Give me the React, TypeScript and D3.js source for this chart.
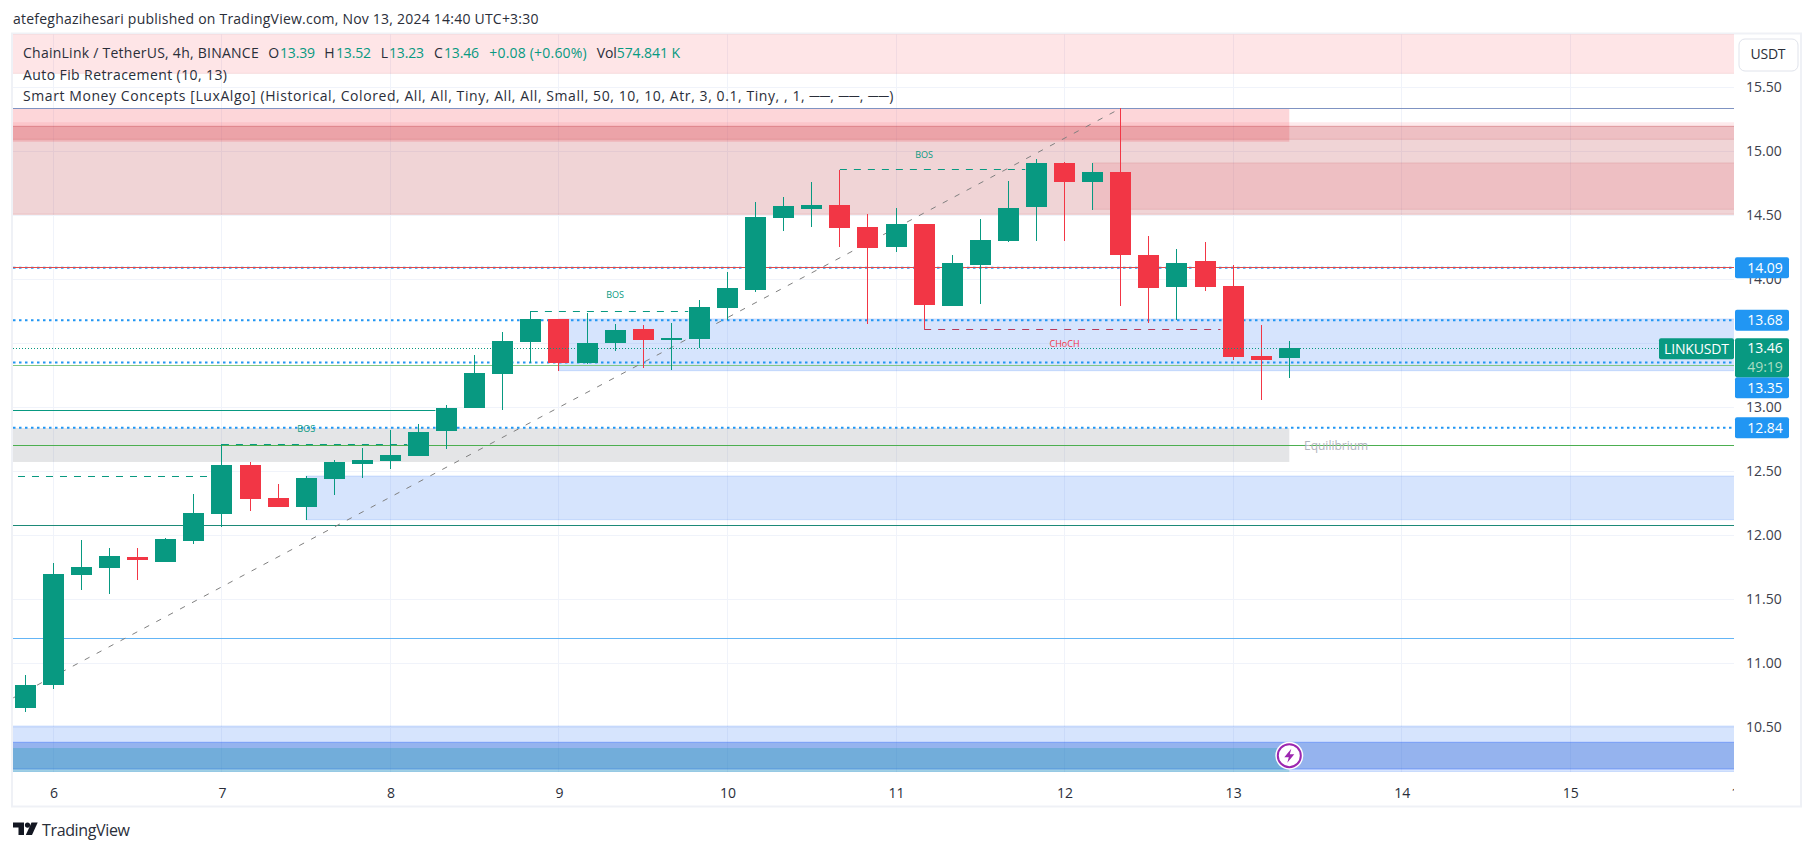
import React, { useEffect, useRef } from "react";
import * as d3 from "d3";

// OHLC per 4h candle
const opens = [10.65, 10.83, 11.69, 11.745, 11.83, 11.79, 11.955, 12.166, 12.549, 12.291, 12.221, 12.44, 12.557, 12.58, 12.62, 12.815, 12.995, 13.26, 13.51, 13.69, 13.346, 13.502, 13.612, 13.526, 13.534, 13.776, 13.916, 14.479, 14.549, 14.58, 14.408, 14.252, 14.432, 13.791, 14.112, 14.299, 14.565, 14.909, 14.76, 14.838, 14.19, 13.94, 14.143, 13.948, 13.4, 13.385];
const highs = [10.91, 11.784, 11.963, 11.9, 11.9, 11.979, 12.323, 12.711, 12.573, 12.401, 12.463, 12.588, 12.682, 12.823, 12.87, 13.018, 13.409, 13.588, 13.752, 13.69, 13.737, 13.651, 13.643, 13.659, 13.838, 14.057, 14.604, 14.643, 14.76, 14.854, 14.51, 14.557, 14.432, 14.19, 14.471, 14.768, 14.94, 14.917, 14.909, 15.336, 14.338, 14.237, 14.291, 14.112, 13.643, 13.518];
const lows = [10.622, 10.802, 11.573, 11.54, 11.651, 11.791, 11.932, 12.065, 12.19, 12.221, 12.12, 12.315, 12.448, 12.518, 12.62, 12.674, 12.995, 12.98, 13.346, 13.284, 13.338, 13.44, 13.307, 13.291, 13.463, 13.682, 13.9, 14.377, 14.408, 14.252, 13.651, 14.213, 13.609, 13.791, 13.807, 14.291, 14.299, 14.299, 14.541, 13.791, 13.659, 13.682, 13.909, 13.37, 13.057, 13.229];
const closes = [10.83, 11.698, 11.752, 11.838, 11.807, 11.971, 12.174, 12.549, 12.284, 12.221, 12.448, 12.573, 12.588, 12.627, 12.807, 12.995, 13.268, 13.518, 13.69, 13.346, 13.502, 13.604, 13.526, 13.541, 13.784, 13.932, 14.487, 14.573, 14.58, 14.401, 14.245, 14.432, 13.799, 14.127, 14.307, 14.557, 14.909, 14.76, 14.838, 14.19, 13.932, 14.127, 13.94, 13.393, 13.37, 13.463];

const priceTicks = [10.5, 11, 11.5, 12, 12.5, 13, 13.5, 14, 14.5, 15, 15.5];
// 13.50 sits behind the last price tag in the picture
const priceTickLabels = [10.5, 11, 11.5, 12, 12.5, 13, 14, 14.5, 15, 15.5];
const dayLabels = [6, 7, 8, 9, 10, 11, 12, 13, 14, 15, 16];
const dayCandleIndex = [1, 7, 13, 19, 25, 31, 37, 43, 49, 55, 61];

// Levels from the indicators
const fibIndex = [-0.43, 39];
const fibPrice = [10.73, 15.336];
const dottedLevels = [14.09, 13.68, 13.35, 12.84];
const dottedLabels = ["14.09", "13.68", "13.35", "12.84"];
const lastPrice = 13.46;

const structureLevels = [12.71, 12.463, 13.752, 14.854];
const structureFrom = [7, -0.26, 18, 29];
const structureTo = [13.6, 6.68, 23.6, 35.6];
const bosIndex = [10, 21, 32];
const bosPrice = [12.828, 13.877, 14.971];
const chochLevel = [32, 42.55, 13.609];
const chochLabel = [37, 13.495];

const WIDTH = 1814;
const HEIGHT = 851;
const plot = { left: 13, right: 1734, top: 34, bottom: 772 };

const GREEN = "#089981";
const RED = "#f23645";
const BLUE = "#2196f3";
const FONT = "'Open Sans', sans-serif";

const App = () => {
  const svgRef = useRef<SVGSVGElement | null>(null);

  useEffect(() => {
    const svg = d3.select(svgRef.current);
    svg.selectAll("*").remove();

    const x = d3.scaleLinear().domain([0, 45]).range([25.3, 1289.3]);
    const y = d3.scaleLinear().domain([13, 15.5]).range([407.3, 87.3]);
    const endX = x.invert(plot.right + 10);
    const startX = x.invert(plot.left - 10);

    svg
      .append("defs")
      .append("clipPath")
      .attr("id", "plot-clip")
      .append("rect")
      .attr("x", plot.left)
      .attr("y", plot.top)
      .attr("width", plot.right - plot.left)
      .attr("height", plot.bottom - plot.top);

    svg
      .append("defs")
      .append("clipPath")
      .attr("id", "time-clip")
      .append("rect")
      .attr("x", plot.left)
      .attr("y", plot.bottom)
      .attr("width", plot.right - plot.left)
      .attr("height", 34);

    // Frame
    svg
      .append("rect")
      .attr("x", 12)
      .attr("y", 33.5)
      .attr("width", 1789)
      .attr("height", 773)
      .attr("fill", "#fff")
      .attr("stroke", "#eff1f6")
      .attr("stroke-width", 2);

    const label = (px: number, py: number, text: string, fill: string, fitWidth?: number) => {
      const t = svg
        .append("text")
        .attr("x", px)
        .attr("y", py)
        .attr("dy", "0.35em")
        .attr("font-family", FONT)
        .attr("font-size", 14)
        .attr("fill", fill)
        .text(text);
      if (fitWidth) t.attr("textLength", fitWidth).attr("lengthAdjust", "spacing");
      return t;
    };

    const ink = "#2a2e39";
    label(13, 19.5, "atefeghazihesari published on TradingView.com, Nov 13, 2024 14:40 UTC+3:30", ink, 525.5);

    const chart = svg.append("g").attr("clip-path", "url(#plot-clip)");

    // --- Grid ---
    chart
      .selectAll(".h-grid")
      .data(priceTicks)
      .join("line")
      .attr("x1", plot.left)
      .attr("x2", plot.right)
      .attr("y1", (d) => Math.floor(y(d)) + 0.5)
      .attr("y2", (d) => Math.floor(y(d)) + 0.5)
      .attr("stroke", "#f0f3fa");
    chart
      .selectAll(".v-grid")
      .data(dayCandleIndex)
      .join("line")
      .attr("x1", (d) => Math.floor(x(d)) + 0.5)
      .attr("x2", (d) => Math.floor(x(d)) + 0.5)
      .attr("y1", plot.top)
      .attr("y2", plot.bottom)
      .attr("stroke", "#f0f3fa");

    // --- Zones ---
    const zone = (
      from: number,
      to: number,
      top: number,
      bottom: number,
      fill: string,
      stroke = "none"
    ) => {
      chart
        .append("rect")
        .attr("x", x(from))
        .attr("width", x(to) - x(from))
        .attr("y", y(top))
        .attr("height", y(bottom) - y(top))
        .attr("fill", fill)
        .attr("stroke", stroke);
    };

    // legend-side supply box
    zone(startX, endX, 15.92, 15.609, "rgba(247,82,95,0.15)", "rgba(178,40,51,0.1)");
    // premium
    zone(startX, 45, 15.336, 15.075, "rgba(247,82,95,0.24)");
    zone(startX, endX, 15.227, 15.195, "rgba(247,82,95,0.12)");
    zone(startX, endX, 15.195, 14.508, "rgba(178,40,51,0.2)", "rgba(178,40,51,0.2)");
    zone(startX, endX, 15.195, 15.094, "rgba(230,75,90,0.15)", "rgba(178,40,51,0.15)");
    zone(38, endX, 14.909, 14.547, "rgba(230,75,90,0.15)", "rgba(178,40,51,0.12)");
    // equilibrium
    zone(startX, 45, 12.838, 12.573, "rgba(120,123,134,0.2)");
    // demand
    zone(19, endX, 13.69, 13.286, "rgba(49,121,245,0.2)", "rgba(49,121,245,0.2)");
    zone(10, endX, 12.463, 12.122, "rgba(49,121,245,0.2)", "rgba(49,121,245,0.2)");
    zone(startX, endX, 10.51, 10.15, "rgba(49,121,245,0.2)", "rgba(49,121,245,0.2)");
    zone(startX, endX, 10.383, 10.174, "rgba(30,90,210,0.35)", "rgba(41,98,255,0.4)");
    zone(startX, 45, 10.338, 10.15, "rgba(32,159,173,0.3)");

    // --- Solid levels ---
    const level = (price: number, color: string, from = startX, to = endX) => {
      chart
        .append("line")
        .attr("x1", x(from))
        .attr("x2", x(to))
        .attr("y1", Math.floor(y(price)) + 0.5)
        .attr("y2", Math.floor(y(price)) + 0.5)
        .attr("stroke", color);
    };
    level(15.336, "#7f93c2");
    level(12.977, GREEN, startX, 14.6);
    level(12.703, "#4caf50");
    level(12.078, "#1d8a78");
    level(11.195, "#64b5f6");
    level(13.328, "#81c784");

    // --- Fib diagonal ---
    chart
      .append("line")
      .attr("x1", x(fibIndex[0]))
      .attr("y1", y(fibPrice[0]))
      .attr("x2", x(fibIndex[1]))
      .attr("y2", y(fibPrice[1]))
      .attr("stroke", "#808080")
      .attr("stroke-dasharray", "5.5 8");

    // --- Dotted levels ---
    chart
      .selectAll(".dotted")
      .data(dottedLevels)
      .join("line")
      .attr("x1", plot.left)
      .attr("x2", plot.right)
      .attr("y1", (d) => y(d))
      .attr("y2", (d) => y(d))
      .attr("stroke", BLUE)
      .attr("stroke-width", 2)
      .attr("stroke-dasharray", "2.5 3.5");
    level(14.095, "#e04a4a");

    // --- Structure breaks ---
    chart
      .selectAll(".bos-line")
      .data(structureLevels)
      .join("line")
      .attr("x1", (_, i) => x(structureFrom[i]))
      .attr("x2", (_, i) => x(structureTo[i]))
      .attr("y1", (d) => Math.floor(y(d)) + 0.5)
      .attr("y2", (d) => Math.floor(y(d)) + 0.5)
      .attr("stroke", GREEN)
      .attr("stroke-dasharray", "7 7");
    chart
      .append("line")
      .attr("x1", x(chochLevel[0]))
      .attr("x2", x(chochLevel[1]))
      .attr("y1", Math.floor(y(chochLevel[2])) + 0.5)
      .attr("y2", Math.floor(y(chochLevel[2])) + 0.5)
      .attr("stroke", "#b83a5a")
      .attr("stroke-dasharray", "7 7");

    chart
      .selectAll(".bos-label")
      .data(bosIndex)
      .join("text")
      .attr("x", (d) => x(d))
      .attr("y", (_, i) => y(bosPrice[i]))
      .attr("dy", "0.35em")
      .attr("text-anchor", "middle")
      .attr("font-family", FONT)
      .attr("font-size", 9)
      .attr("fill", GREEN)
      .text("BOS");
    chart
      .append("text")
      .attr("x", x(chochLabel[0]))
      .attr("y", y(chochLabel[1]))
      .attr("dy", "0.35em")
      .attr("text-anchor", "middle")
      .attr("font-family", FONT)
      .attr("font-size", 9)
      .attr("fill", RED)
      .text("CHoCH");

    chart
      .append("text")
      .attr("x", 1304)
      .attr("y", y(12.703))
      .attr("dy", "0.35em")
      .attr("font-family", FONT)
      .attr("font-size", 12)
      .attr("fill", "#b2b5be")
      .text("Equilibrium");

    // --- Candles ---
    const candles = d3.range(opens.length);
    const candle = chart
      .selectAll(".candle")
      .data(candles)
      .join("g")
      .attr("shape-rendering", "crispEdges")
      .attr("fill", (i) => (closes[i] >= opens[i] ? GREEN : RED));
    candle
      .append("rect")
      .attr("x", (i) => Math.floor(x(i)))
      .attr("width", 1)
      .attr("y", (i) => y(highs[i]))
      .attr("height", (i) => y(lows[i]) - y(highs[i]));
    candle
      .append("rect")
      .attr("x", (i) => Math.floor(x(i)) - 10)
      .attr("width", 21)
      .attr("y", (i) => y(Math.max(opens[i], closes[i])))
      .attr("height", (i) => Math.abs(y(opens[i]) - y(closes[i])));

    // last price line goes over the candles
    chart
      .append("line")
      .attr("x1", plot.left)
      .attr("x2", plot.right)
      .attr("y1", Math.floor(y(lastPrice)) + 0.5)
      .attr("y2", Math.floor(y(lastPrice)) + 0.5)
      .attr("stroke", GREEN)
      .attr("stroke-dasharray", "1 2");

    // --- Axes ---
    const priceAxis = svg
      .append("g")
      .attr("transform", `translate(${plot.right}, 0)`)
      .call(
        d3
          .axisRight(y)
          .tickValues(priceTickLabels)
          .tickSize(0)
          .tickPadding(12)
          .tickFormat(d3.format(".2f") as any)
      );
    priceAxis.select(".domain").remove();
    priceAxis
      .selectAll("text")
      .attr("font-family", FONT)
      .attr("font-size", 14)
      .attr("fill", "#3c404b");

    const timeAxis = svg
      .append("g")
      .attr("clip-path", "url(#time-clip)")
      .append("g")
      .attr("transform", `translate(0, ${plot.bottom})`)
      .call(
        d3
          .axisBottom(x)
          .tickValues(dayCandleIndex)
          .tickSize(0)
          .tickPadding(16)
          .tickFormat((_, i) => String(dayLabels[i]))
      );
    timeAxis.select(".domain").remove();
    timeAxis
      .selectAll("text")
      .attr("font-family", FONT)
      .attr("font-size", 14)
      .attr("fill", "#2a2e39");

    // --- Price labels ---
    const pillY = [y(dottedLevels[0]), y(dottedLevels[1]), 387.7, y(dottedLevels[3])];
    svg
      .selectAll(".pill")
      .data(dottedLabels)
      .join("rect")
      .attr("x", plot.right + 1)
      .attr("y", (_, i) => pillY[i] - 10.5)
      .attr("width", 54)
      .attr("height", 21)
      .attr("rx", 2)
      .attr("fill", BLUE);
    svg
      .selectAll(".pill-text")
      .data(dottedLabels)
      .join("text")
      .attr("x", 1765)
      .attr("y", (_, i) => pillY[i])
      .attr("dy", "0.35em")
      .attr("text-anchor", "middle")
      .attr("font-family", FONT)
      .attr("font-size", 14)
      .attr("fill", "#fff")
      .text((d) => d);

    svg
      .append("rect")
      .attr("x", plot.right + 1)
      .attr("y", 338.3)
      .attr("width", 54)
      .attr("height", 39)
      .attr("rx", 2)
      .attr("fill", GREEN);
    svg
      .append("text")
      .attr("x", 1765)
      .attr("y", y(lastPrice))
      .attr("dy", "0.35em")
      .attr("text-anchor", "middle")
      .attr("font-family", FONT)
      .attr("font-size", 14)
      .attr("fill", "#fff")
      .text(lastPrice.toFixed(2));
    svg
      .append("text")
      .attr("x", 1765)
      .attr("y", 366.7)
      .attr("dy", "0.35em")
      .attr("text-anchor", "middle")
      .attr("font-family", FONT)
      .attr("font-size", 14)
      .attr("fill", "#a9dcc3")
      .text("49:19");
    svg
      .append("rect")
      .attr("x", 1659)
      .attr("y", 338.3)
      .attr("width", 75)
      .attr("height", 21)
      .attr("rx", 2)
      .attr("fill", GREEN);
    label(1664, 348.8, "LINKUSDT", "#fff", 65);

    // USDT button
    svg
      .append("rect")
      .attr("x", 1739)
      .attr("y", 39)
      .attr("width", 59)
      .attr("height", 32)
      .attr("rx", 6)
      .attr("fill", "#fff")
      .attr("stroke", "#e0e3eb");
    label(1750.5, 54.5, "USDT", ink, 35);

    // --- Legend rows ---
    label(23, 53.5, "ChainLink / TetherUS, 4h, BINANCE", ink, 235.7);
    label(268.3, 53.5, "O", ink);
    label(280, 53.5, "13.39", GREEN, 35);
    label(324.3, 53.5, "H", ink);
    label(336, 53.5, "13.52", GREEN, 35);
    label(380.7, 53.5, "L", ink);
    label(389, 53.5, "13.23", GREEN, 35);
    label(434, 53.5, "C", ink);
    label(444, 53.5, "13.46", GREEN, 35);
    label(489.3, 53.5, "+0.08 (+0.60%)", GREEN, 97.4);
    label(596.7, 53.5, "Vol", ink, 20);
    label(616.7, 53.5, "574.841 K", GREEN, 63.3);
    label(23, 75, "Auto Fib Retracement (10, 13)", ink, 204);
    label(
      23,
      96,
      "Smart Money Concepts [LuxAlgo] (Historical, Colored, All, All, Tiny, All, All, Small, 50, 10, 10, Atr, 3, 0.1, Tiny, , 1, ──, ──, ──)",
      ink,
      870.3
    );

    // --- Lightning marker on the last candle ---
    const bolt = svg.append("g").attr("transform", `translate(${x(45)}, 755.7)`);
    bolt.append("circle").attr("r", 14).attr("fill", "#fff");
    bolt
      .append("circle")
      .attr("r", 11.5)
      .attr("fill", "#fff")
      .attr("stroke", "#9c27b0")
      .attr("stroke-width", 2);
    bolt.append("path").attr("d", "M2 -7 L-5 1.5 L-0.5 1.5 L-2 7 L5 -1.5 L0.5 -1.5 Z").attr("fill", "#9c27b0");

    // --- TradingView logo ---
    const logo = svg.append("g").attr("transform", "translate(13, 822.5)").attr("fill", "#131722");
    logo.append("path").attr("d", "M0 0 H11 V12.5 H5.5 V5 H0 Z");
    logo.append("circle").attr("cx", 14.5).attr("cy", 2.6).attr("r", 2.6);
    logo.append("path").attr("d", "M18.5 0 H24.7 L19 12.5 H12.8 Z");
    label(42, 830, "TradingView", ink, 88).attr("font-size", 16);
  }, []);

  return (
    <svg
      ref={svgRef}
      width={WIDTH}
      height={HEIGHT}
      viewBox={`0 0 ${WIDTH} ${HEIGHT}`}
      style={{ position: "absolute", left: 0, top: 0, display: "block" }}
    />
  );
};

export default App;
